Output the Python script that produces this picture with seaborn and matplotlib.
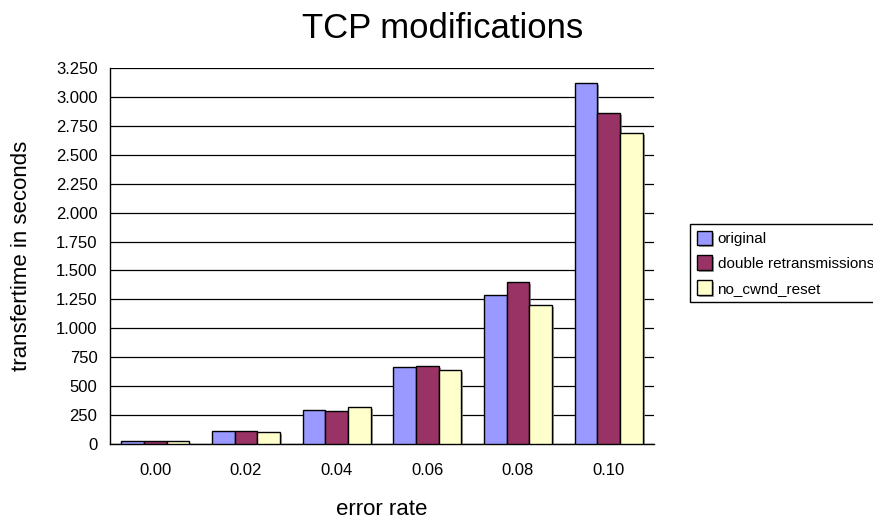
import pandas as pd
import matplotlib
matplotlib.use("Agg")
import matplotlib.pyplot as plt
import matplotlib.patheffects as pe
from matplotlib.ticker import FuncFormatter, FixedLocator
import seaborn as sns

error_rates = ["0.00", "0.02", "0.04", "0.06", "0.08", "0.10"]
original = [25, 115, 291, 663, 1290, 3117]
double_retrans = [25, 115, 283, 671, 1403, 2858]
no_cwnd_reset = [25, 108, 317, 640, 1204, 2691]
series_names = ["original", "double retransmissions", "no_cwnd_reset"]
colors = ["#9999FF", "#993366", "#FFFFCC"]

rows = []
for name, vals in zip(series_names, [original, double_retrans, no_cwnd_reset]):
    for er, v in zip(error_rates, vals):
        rows.append({"error rate": er, "time": v, "series": name})
df = pd.DataFrame(rows)

sns.set_style("white")
plt.rcParams["font.family"] = ["Liberation Sans", "DejaVu Sans"]
plt.rcParams["text.color"] = "black"
plt.rcParams["axes.labelcolor"] = "black"
plt.rcParams["xtick.color"] = "black"
plt.rcParams["ytick.color"] = "black"

fig = plt.figure(figsize=(8.73, 5.21), dpi=100)
ax = fig.add_axes([110 / 873, 77 / 521, 544 / 873, 376 / 521])

g = sns.barplot(data=df, x="error rate", y="time", hue="series", order=error_rates,
                hue_order=series_names, palette=colors, width=0.75, gap=0,
                edgecolor="black", linewidth=1, saturation=1, ax=ax, zorder=3)
for p in ax.patches:
    p.set_path_effects([pe.SimplePatchShadow(offset=(1.5, -1.5), shadow_rgbFace="#888888", alpha=0.8), pe.Normal()])

ax.set_ylim(0, 3250)
ax.set_xlim(-0.5, 5.5)
ax.set_yticks(range(0, 3251, 250))
ax.yaxis.set_major_formatter(FuncFormatter(lambda v, p: f"{int(v):,}".replace(",", ".")))
ax.grid(axis="y", color="black", linewidth=0.9, zorder=0)
ax.xaxis.set_minor_locator(FixedLocator([i - 0.5 for i in range(7)]))
ax.tick_params(axis="x", which="major", length=0, pad=14, labelsize=12)
ax.tick_params(axis="x", which="minor", length=7, width=1, color="black", direction="out")
ax.tick_params(axis="y", length=6, width=1, color="black", direction="out", labelsize=12, pad=3)
for s in ["top", "right"]:
    ax.spines[s].set_visible(False)
for s in ["left", "bottom"]:
    ax.spines[s].set_color("black")
    ax.spines[s].set_linewidth(1)

ax.set_xlabel("error rate", fontsize=16, labelpad=15)
ax.set_ylabel("transfertime in seconds", fontsize=16, labelpad=17)
fig.text(443 / 873, 1 - 28 / 521, "TCP modifications", ha="center", va="center", fontsize=25)

ax.legend(loc="center left", bbox_to_anchor=((690 - 110) / 544, 0.481), frameon=True,
          borderaxespad=0, fancybox=False, edgecolor="black", fontsize=11,
          handlelength=1.0, handleheight=1.1, handletextpad=0.35, borderpad=0.45,
          labelspacing=0.6, framealpha=1)

plt.savefig("out.png", dpi=100)
